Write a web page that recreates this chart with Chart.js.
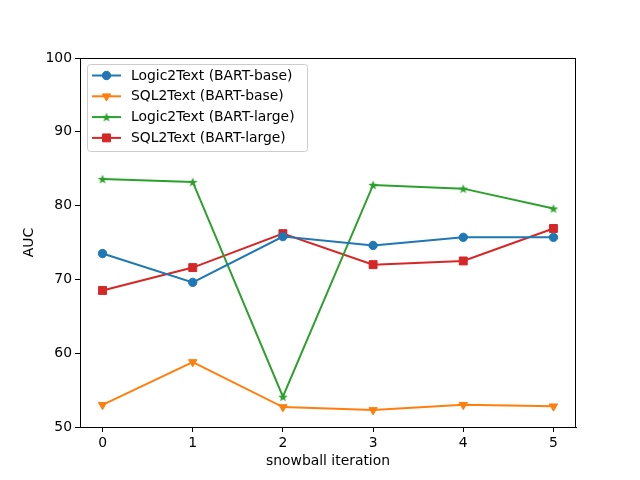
<!DOCTYPE html>
<html>
<head>
<meta charset="utf-8">
<script src="https://cdn.jsdelivr.net/npm/chart.js@4"></script>
<style>
  html, body { margin: 0; padding: 0; background: #fff; }
  #wrap { width: 640px; height: 480px; }
</style>
</head>
<body>
<div id="wrap"><canvas id="myChart" width="640" height="480"></canvas></div>
<script>
const iterations = [0, 1, 2, 3, 4, 5];
const xTicks = [0, 1, 2, 3, 4, 5];
const yTicks = [50, 60, 70, 80, 90, 100];
const logicBase = [73.5, 69.6, 75.8, 74.6, 75.7, 75.7];
const sqlBase = [53.0, 58.8, 52.7, 52.3, 53.0, 52.8];
const logicLarge = [83.6, 83.2, 54.1, 82.8, 82.3, 79.6];
const sqlLarge = [68.5, 71.6, 76.2, 72.0, 72.5, 76.9];
const seriesNames = [
    'Logic2Text (BART-base)',
    'SQL2Text (BART-base)',
    'Logic2Text (BART-large)',
    'SQL2Text (BART-large)'
];

const FONT = 'DejaVu Sans';
const FSIZE = 13.9;

// filled five-point star, like matplotlib's '*'
function makeStar(color, r) {
    const c = document.createElement('canvas');
    const s = Math.ceil(r * 2 + 2);
    c.width = s; c.height = s;
    const g = c.getContext('2d');
    g.beginPath();
    for (let i = 0; i < 10; i++) {
        const rr = i % 2 === 0 ? r : r * 0.42;
        const a = -Math.PI / 2 + i * Math.PI / 5;
        const px = s / 2 + Math.cos(a) * rr;
        const py = s / 2 + Math.sin(a) * rr + r * 0.1;
        if (i === 0) g.moveTo(px, py); else g.lineTo(px, py);
    }
    g.closePath();
    g.fillStyle = color;
    g.fill();
    return c;
}

const colors = ['#1f77b4', '#ff7f0e', '#2ca02c', '#d62728'];
const star = makeStar(colors[2], 5);

function pts(arr) {
    return arr.map((v, i) => ({ x: iterations[i], y: v }));
}

const datasets = [
    { label: seriesNames[0], data: pts(logicBase), pointStyle: 'circle', pointRadius: 4.2, rotation: 0 },
    { label: seriesNames[1], data: pts(sqlBase), pointStyle: 'triangle', pointRadius: 4.8, rotation: 180 },
    { label: seriesNames[2], data: pts(logicLarge), pointStyle: star, pointRadius: 5, rotation: 0 },
    { label: seriesNames[3], data: pts(sqlLarge), pointStyle: 'rect', pointRadius: 5.6, rotation: 0 }
].map((d, i) => Object.assign(d, {
    borderColor: colors[i],
    backgroundColor: colors[i],
    pointBackgroundColor: colors[i],
    pointBorderColor: colors[i],
    pointBorderWidth: 1,
    borderWidth: 2,
    tension: 0,
    fill: false,
    pointHoverRadius: d.pointRadius
}));

// frame + in-axes legend
const framePlugin = {
    id: 'frame',
    afterDraw(chart) {
        const ctx = chart.ctx;
        const a = chart.chartArea;
        ctx.save();
        ctx.strokeStyle = '#000';
        ctx.lineWidth = 1;
        ctx.strokeRect(Math.round(a.left) + 0.5, Math.round(a.top) + 0.5,
            Math.round(a.right - a.left) - 1, Math.round(a.bottom - a.top));

        // legend box
        const bx = a.left + 7.5, by = a.top + 6.5, bw = 220, bh = 87;
        ctx.beginPath();
        ctx.roundRect(bx, by, bw, bh, 3);
        ctx.fillStyle = 'rgba(255,255,255,0.8)';
        ctx.fill();
        ctx.strokeStyle = '#cccccc';
        ctx.stroke();

        ctx.font = FSIZE + 'px "' + FONT + '"';
        ctx.textBaseline = 'middle';
        ctx.textAlign = 'left';
        chart.data.datasets.forEach((ds, i) => {
            const y = a.top + 17.5 + i * 20.8;
            ctx.strokeStyle = ds.borderColor;
            ctx.lineWidth = 2;
            ctx.beginPath();
            ctx.moveTo(a.left + 12, y);
            ctx.lineTo(a.left + 41, y);
            ctx.stroke();
            ctx.fillStyle = ds.backgroundColor;
            ctx.strokeStyle = ds.borderColor;
            ctx.lineWidth = 1;
            Chart.helpers.drawPoint(ctx, {
                pointStyle: ds.pointStyle,
                radius: ds.pointRadius,
                rotation: ds.rotation,
                borderWidth: 1
            }, a.left + 26.5, y);
            ctx.fillStyle = '#000';
            ctx.fillText(ds.label, a.left + 51, y + 0.5);
        });
        ctx.restore();
    }
};

new Chart(document.getElementById('myChart').getContext('2d'), {
    type: 'line',
    data: { datasets: datasets },
    options: {
        responsive: false,
        animation: false,
        layout: { padding: { top: 58, right: 64, left: 16, bottom: 10 } },
        plugins: {
            legend: { display: false },
            tooltip: { enabled: false }
        },
        scales: {
            x: {
                type: 'linear',
                min: -0.25,
                max: 5.25,
                afterBuildTicks: s => { s.ticks = xTicks.map(v => ({ value: v })); },
                afterFit: s => { s.height = 43; },
                grid: { display: true, drawOnChartArea: false, drawTicks: true, tickLength: 5, color: '#000' },
                border: { display: true, color: '#000' },
                ticks: { color: '#000', font: { family: FONT, size: FSIZE }, padding: 3, maxRotation: 0 },
                title: { display: true, text: 'snowball iteration', color: '#000', font: { family: FONT, size: FSIZE }, padding: { top: 0, bottom: 0 } }
            },
            y: {
                min: 50,
                max: 100,
                afterBuildTicks: s => { s.ticks = yTicks.map(v => ({ value: v })); },
                afterFit: s => { s.width = 64; },
                grid: { display: true, drawOnChartArea: false, drawTicks: true, tickLength: 5, color: '#000' },
                border: { display: true, color: '#000' },
                ticks: { color: '#000', font: { family: FONT, size: FSIZE }, padding: 3 },
                title: { display: true, text: 'AUC', color: '#000', font: { family: FONT, size: FSIZE }, padding: { top: 5, bottom: 0 } }
            }
        }
    },
    plugins: [framePlugin]
});
</script>
</body>
</html>
